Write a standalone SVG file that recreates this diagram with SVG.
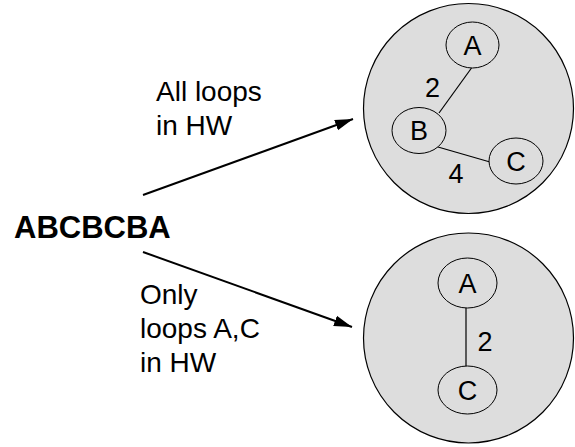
<svg xmlns="http://www.w3.org/2000/svg" width="575" height="447" viewBox="0 0 575 447">
<style>
.big{fill:#dddddd;stroke:#000;stroke-width:1.2}
.node{fill:#dddddd;stroke:#000;stroke-width:1}
.edge{stroke:#000;stroke-width:1.2;fill:none}
.arrow{stroke:#000;stroke-width:2;fill:none}
text{font-family:"Liberation Sans",Arial,sans-serif;fill:#000}
.lab{font-size:28px}
.nl{font-size:27px;text-anchor:middle}
.title{font-size:31px;font-weight:bold}
</style>
<defs>
<marker id="ah" markerUnits="userSpaceOnUse" markerWidth="20" markerHeight="14" refX="18" refY="7" orient="auto">
<path d="M0,1.5 L18,7 L0,12.5 z" fill="#000"/>
</marker>
</defs>
<rect width="575" height="447" fill="#fff"/>
<g id="top-group">
<circle class="big" cx="468.5" cy="108.5" r="105"/>
</g>
<g id="bottom-group">
<circle class="big" cx="468.5" cy="338" r="105"/>
</g>
<g id="connectors">
<line class="arrow" x1="143" y1="195" x2="353" y2="119" marker-end="url(#ah)"/>
<line class="arrow" x1="143" y1="252" x2="352" y2="327" marker-end="url(#ah)"/>
<line class="edge" x1="471.5" y1="68" x2="439" y2="113"/>
<line class="edge" x1="438" y1="147" x2="490" y2="162"/>
<line class="edge" x1="466" y1="308" x2="466" y2="366"/>
</g>
<g id="node-A1"><ellipse class="node" cx="472.5" cy="45" rx="26.5" ry="23"/><text class="nl" x="472.5" y="54.5">A</text></g>
<g id="node-B1"><ellipse class="node" cx="419" cy="130.5" rx="27" ry="23"/><text class="nl" x="419" y="140">B</text></g>
<g id="node-C1"><ellipse class="node" cx="516" cy="161" rx="27" ry="23"/><text class="nl" x="516" y="170.5">C</text></g>
<g id="node-A2"><ellipse class="node" cx="467.5" cy="283" rx="29.5" ry="25"/><text class="nl" x="467.5" y="292.5">A</text></g>
<g id="node-C2"><ellipse class="node" cx="467.5" cy="390" rx="29.5" ry="24"/><text class="nl" x="467.5" y="399.5">C</text></g>
<g id="edge-labels">
<text class="nl" x="432.5" y="96.5">2</text>
<text class="nl" x="456" y="182.5">4</text>
<text class="nl" x="485" y="350.5">2</text>
</g>
<g id="source"><text class="title" x="14" y="238">ABCBCBA</text></g>
<g id="labels">
<text class="lab" x="156" y="101">All loops</text>
<text class="lab" x="156" y="135">in HW</text>
<text class="lab" x="140" y="304">Only</text>
<text class="lab" x="140" y="338">loops A,C</text>
<text class="lab" x="140" y="372">in HW</text>
</g>
</svg>
